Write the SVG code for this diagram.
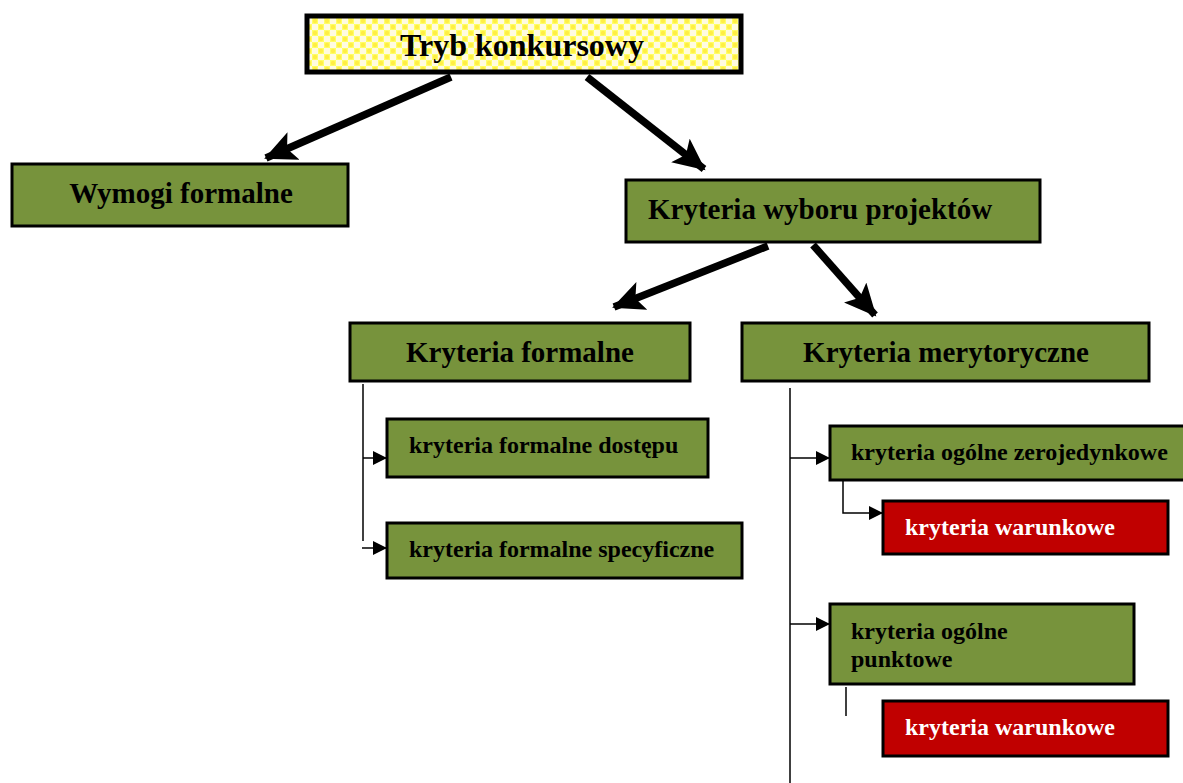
<svg xmlns="http://www.w3.org/2000/svg" width="1183" height="783" viewBox="0 0 1183 783">
<style>
.box{fill:#77933c;stroke:#000;stroke-width:3}
.red{fill:#c00000;stroke:#000;stroke-width:3}
.t{font-family:"Liberation Serif",serif;font-weight:bold;fill:#000}
.big{font-size:29px}
.sm{font-size:24px}
.w{fill:#fff}
.thick{stroke:#000;stroke-width:7.5;fill:none}
.thin{stroke:#000;stroke-width:1.5;fill:none}
</style>
<defs>
<pattern id="chk" width="12" height="12" patternUnits="userSpaceOnUse">
<rect width="12" height="12" fill="#ffff66"/>
<rect width="6" height="6" fill="#fffbe0"/>
<rect x="6" y="6" width="6" height="6" fill="#fffbe0"/>
<circle cx="9" cy="3" r="2.2" fill="#ffee44"/>
<circle cx="3" cy="9" r="2.2" fill="#ffee44"/>
</pattern>
<marker id="ah" markerUnits="userSpaceOnUse" markerWidth="34" markerHeight="30" refX="30" refY="15" orient="auto">
<path d="M0,0 L32,15 L0,30 L7,15 Z" fill="#000"/>
</marker>
<marker id="as" markerUnits="userSpaceOnUse" markerWidth="14" markerHeight="14" refX="13" refY="7" orient="auto">
<path d="M0,0 L14,7 L0,14 Z" fill="#000"/>
</marker>
</defs>
<g id="connectors">
<line class="thick" x1="451" y1="77" x2="266" y2="158" marker-end="url(#ah)"/>
<line class="thick" x1="587" y1="77" x2="704" y2="169" marker-end="url(#ah)"/>
<line class="thick" x1="768" y1="246" x2="614" y2="307" marker-end="url(#ah)"/>
<line class="thick" x1="813" y1="245" x2="875" y2="315" marker-end="url(#ah)"/>
<line class="thin" x1="363" y1="384" x2="363" y2="541"/>
<line class="thin" x1="363" y1="458" x2="386" y2="458" marker-end="url(#as)"/>
<line class="thin" x1="362" y1="548" x2="386" y2="548" marker-end="url(#as)"/>
<line class="thin" x1="790" y1="388" x2="790" y2="783"/>
<line class="thin" x1="790" y1="458" x2="829" y2="458" marker-end="url(#as)"/>
<line class="thin" x1="790" y1="624" x2="829" y2="624" marker-end="url(#as)"/>
<polyline class="thin" points="843,480 843,513 882,513" marker-end="url(#as)"/>
<line class="thin" x1="846" y1="687" x2="846" y2="716"/>
</g>
<g id="tryb">
<rect x="307" y="16" width="434" height="56" fill="url(#chk)" stroke="#000" stroke-width="5"/>
<text class="t" x="522" y="56" font-size="32" text-anchor="middle">Tryb konkursowy</text>
</g>
<g id="wymogi">
<rect class="box" x="12" y="164" width="336" height="62"/>
<text class="t big" x="181" y="203" text-anchor="middle">Wymogi formalne</text>
</g>
<g id="wyboru">
<rect class="box" x="626" y="180" width="414" height="62"/>
<text class="t big" x="648" y="219">Kryteria wyboru projektów</text>
</g>
<g id="formalne">
<rect class="box" x="350" y="323" width="340" height="58"/>
<text class="t big" x="520" y="362" text-anchor="middle">Kryteria formalne</text>
</g>
<g id="merytoryczne">
<rect class="box" x="742" y="323" width="407" height="58"/>
<text class="t big" x="946" y="362" text-anchor="middle">Kryteria merytoryczne</text>
</g>
<g id="dostepu">
<rect class="box" x="387" y="419" width="321" height="58"/>
<text class="t sm" x="409" y="453">kryteria formalne dostępu</text>
</g>
<g id="specyficzne">
<rect class="box" x="387" y="523" width="355" height="55"/>
<text class="t sm" x="409" y="557">kryteria formalne specyficzne</text>
</g>
<g id="zerojedynkowe">
<rect class="box" x="830" y="426" width="360" height="54"/>
<text class="t sm" x="851" y="460">kryteria ogólne zerojedynkowe</text>
</g>
<g id="warunkowe1">
<rect class="red" x="883" y="501" width="285" height="53"/>
<text class="t sm w" x="905" y="535">kryteria warunkowe</text>
</g>
<g id="punktowe">
<rect class="box" x="830" y="604" width="304" height="80"/>
<text class="t sm" x="851" y="639">kryteria ogólne</text>
<text class="t sm" x="851" y="667">punktowe</text>
</g>
<g id="warunkowe2">
<rect class="red" x="883" y="701" width="285" height="55"/>
<text class="t sm w" x="905" y="735">kryteria warunkowe</text>
</g>
</svg>
